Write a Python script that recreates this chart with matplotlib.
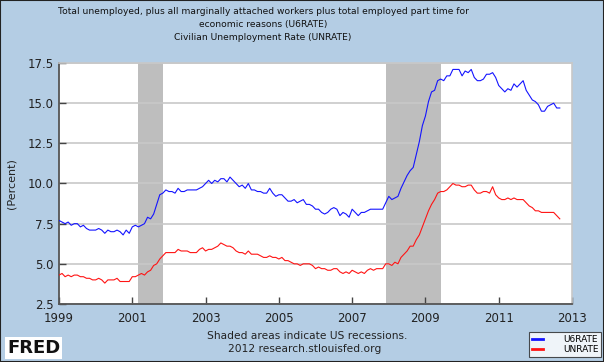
import numpy as np
import matplotlib
matplotlib.use("Agg")
import matplotlib.pyplot as plt
from matplotlib.patches import Rectangle

# Monthly data, Jan 1999 - Sep 2012
u6rate = [
    7.7, 7.6, 7.5, 7.6, 7.4, 7.5, 7.5, 7.3, 7.4, 7.2, 7.1, 7.1,
    7.1, 7.2, 7.1, 6.9, 7.1, 7.0, 7.0, 7.1, 7.0, 6.8, 7.1, 6.9,
    7.3, 7.4, 7.3, 7.4, 7.5, 7.9, 7.8, 8.1, 8.7, 9.3, 9.4, 9.6,
    9.5, 9.5, 9.4, 9.7, 9.5, 9.5, 9.6, 9.6, 9.6, 9.6, 9.7, 9.8,
    10.0, 10.2, 10.0, 10.2, 10.1, 10.3, 10.3, 10.1, 10.4, 10.2, 10.0, 9.8,
    9.9, 9.7, 10.0, 9.6, 9.6, 9.5, 9.5, 9.4, 9.4, 9.7, 9.4, 9.2,
    9.3, 9.3, 9.1, 8.9, 8.9, 9.0, 8.8, 8.9, 9.0, 8.7, 8.7, 8.6,
    8.4, 8.4, 8.2, 8.1, 8.2, 8.4, 8.5, 8.4, 8.0, 8.2, 8.1, 7.9,
    8.4, 8.2, 8.0, 8.2, 8.2, 8.3, 8.4, 8.4, 8.4, 8.4, 8.4, 8.8,
    9.2, 9.0, 9.1, 9.2, 9.7, 10.1, 10.5, 10.8, 11.0, 11.8, 12.6, 13.6,
    14.2, 15.1, 15.7, 15.8, 16.4, 16.5, 16.4, 16.7, 16.7, 17.1, 17.1, 17.1,
    16.7, 17.0, 16.9, 17.1, 16.6, 16.4, 16.4, 16.5, 16.8, 16.8, 16.9, 16.6,
    16.1, 15.9, 15.7, 15.9, 15.8, 16.2, 16.0, 16.2, 16.4, 15.8, 15.5, 15.2,
    15.1, 14.9, 14.5, 14.5, 14.8, 14.9, 15.0, 14.7, 14.7,
]

unrate = [
    4.3, 4.4, 4.2, 4.3, 4.2, 4.3, 4.3, 4.2, 4.2, 4.1, 4.1, 4.0,
    4.0, 4.1, 4.0, 3.8, 4.0, 4.0, 4.0, 4.1, 3.9, 3.9, 3.9, 3.9,
    4.2, 4.2, 4.3, 4.4, 4.3, 4.5, 4.6, 4.9, 5.0, 5.3, 5.5, 5.7,
    5.7, 5.7, 5.7, 5.9, 5.8, 5.8, 5.8, 5.7, 5.7, 5.7, 5.9, 6.0,
    5.8, 5.9, 5.9, 6.0, 6.1, 6.3, 6.2, 6.1, 6.1, 6.0, 5.8, 5.7,
    5.7, 5.6, 5.8, 5.6, 5.6, 5.6, 5.5, 5.4, 5.4, 5.5, 5.4, 5.4,
    5.3, 5.4, 5.2, 5.2, 5.1, 5.0, 5.0, 4.9, 5.0, 5.0, 5.0, 4.9,
    4.7, 4.8, 4.7, 4.7, 4.6, 4.6, 4.7, 4.7, 4.5, 4.4, 4.5, 4.4,
    4.6, 4.5, 4.4, 4.5, 4.4, 4.6, 4.7, 4.6, 4.7, 4.7, 4.7, 5.0,
    5.0, 4.9, 5.1, 5.0, 5.4, 5.6, 5.8, 6.1, 6.1, 6.5, 6.8, 7.3,
    7.8, 8.3, 8.7, 9.0, 9.4, 9.5, 9.5, 9.6, 9.8, 10.0, 9.9, 9.9,
    9.8, 9.8, 9.9, 9.9, 9.6, 9.4, 9.4, 9.5, 9.5, 9.4, 9.8, 9.3,
    9.1, 9.0, 9.0, 9.1, 9.0, 9.1, 9.0, 9.0, 9.0, 8.8, 8.6, 8.5,
    8.3, 8.3, 8.2, 8.2, 8.2, 8.2, 8.2, 8.0, 7.8,
]

# Recessions (start, end) in decimal years
recessions = [(2001 + 2 / 12, 2001 + 10 / 12), (2007 + 11 / 12, 2009 + 5 / 12)]

start_year = 1999
years = start_year + np.arange(len(unrate)) / 12.0

bg = "#b4cde4"
fig = plt.figure(figsize=(6.04, 3.62), dpi=100, facecolor=bg)
ax = fig.add_axes([59 / 604, 1 - 304 / 362, (572 - 59) / 604, (304 - 63) / 362])
ax.set_facecolor("white")

for a, b in recessions:
    ax.axvspan(a, b, color="#bebebe", lw=0, zorder=1)

ax.set_ylim(2.5, 17.5)
ax.set_xlim(1999, 2013)
ax.set_yticks([2.5, 5.0, 7.5, 10.0, 12.5, 15.0, 17.5])
ax.set_yticklabels(["2.5", "5.0", "7.5", "10.0", "12.5", "15.0", "17.5"])
ax.set_xticks([1999, 2001, 2003, 2005, 2007, 2009, 2011, 2013])
ax.set_xticklabels(["1999", "2001", "2003", "2005", "2007", "2009", "2011", "2013"])
ax.grid(axis="y", color="#c8c8c8", lw=1.2, zorder=2)
ax.tick_params(direction="in", length=5, width=1, color="#444444",
               labelsize=8.5, labelcolor="#222222", pad=4)
ax.tick_params(axis="x", pad=6)

ax.plot(years, u6rate, color="#1414ff", lw=0.8, zorder=3, label="U6RATE")
ax.plot(years, unrate, color="#ff1414", lw=0.8, zorder=3, label="UNRATE")

for s in ["left", "bottom"]:
    ax.spines[s].set_color("#555555")
    ax.spines[s].set_linewidth(1.3)
for s in ["top", "right"]:
    ax.spines[s].set_color("#c8c8c8")
    ax.spines[s].set_linewidth(1.2)

ax.set_ylabel("(Percent)", fontsize=8, color="#222222", labelpad=8)

title_kw = dict(ha="center", va="center", fontsize=6.6, color="#111111")
fig.text(263 / 604, 1 - 11 / 362, "Total unemployed, plus all marginally attached workers plus total employed part time for", **title_kw)
fig.text(263 / 604, 1 - 24 / 362, "economic reasons (U6RATE)", **title_kw)
fig.text(263 / 604, 1 - 37 / 362, "Civilian Unemployment Rate (UNRATE)", **title_kw)

fig.text(307 / 604, 1 - 336 / 362, "Shaded areas indicate US recessions.",
         ha="center", va="center", fontsize=7.7, color="#222222")
fig.text(305 / 604, 1 - 349 / 362, "2012 research.stlouisfed.org",
         ha="center", va="center", fontsize=7.7, color="#222222")

fig.text(7 / 604, 1 - 348 / 362, "FRED", ha="left", va="center", fontsize=13,
         fontweight="bold", color="#111111",
         bbox=dict(facecolor="white", edgecolor="none", pad=1.5))

leg = ax.legend(loc="lower right", bbox_to_anchor=(601 / 604, 5 / 362),
                bbox_transform=fig.transFigure, fontsize=6.5, frameon=True,
                fancybox=False, handlelength=1.2, borderpad=0.3,
                labelspacing=0.15, handletextpad=2.2, borderaxespad=0)
leg.get_frame().set_edgecolor("#222222")
leg.get_frame().set_linewidth(0.8)
for line in leg.get_lines():
    line.set_linewidth(2)

fig.patches.append(Rectangle((0, 0), 1, 1, transform=fig.transFigure,
                             fill=False, edgecolor="#222222", lw=1.5))

fig.savefig("out.png", dpi=100, facecolor=bg)
